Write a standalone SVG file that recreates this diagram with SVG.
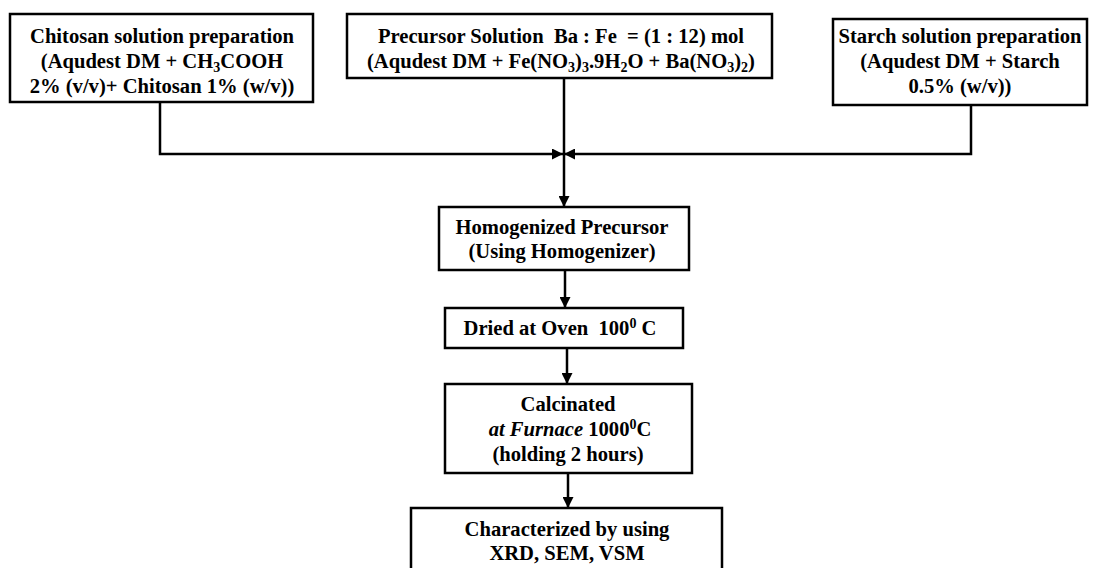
<svg xmlns="http://www.w3.org/2000/svg" width="1097" height="568" viewBox="0 0 1097 568">
<style>
.box{fill:#fff;stroke:#000;stroke-width:2.5}
.t{font-family:"Liberation Serif","Times New Roman",serif;font-weight:bold;font-size:20.6px;fill:#000;text-anchor:middle;white-space:pre}
.ln{fill:none;stroke:#000;stroke-width:2.5}
.sub{font-size:14px}
</style>
<defs>
<marker id="ah" viewBox="0 0 10 10" refX="10" refY="5" markerWidth="11" markerHeight="11" markerUnits="userSpaceOnUse" orient="auto">
<path d="M0,0 L10,5 L0,10 Z" fill="#000"/>
</marker>
</defs>
<rect width="1097" height="568" fill="#fff"/>
<g id="connectors">
<polyline class="ln" points="160,102 160,154 563,154" marker-end="url(#ah)"/>
<polyline class="ln" points="971,105 971,154 564,154" marker-end="url(#ah)"/>
<line class="ln" x1="564" y1="78" x2="564" y2="207" marker-end="url(#ah)"/>
<line class="ln" x1="565" y1="270" x2="565" y2="308" marker-end="url(#ah)"/>
<line class="ln" x1="567" y1="348" x2="567" y2="384" marker-end="url(#ah)"/>
<line class="ln" x1="568" y1="473" x2="568" y2="508" marker-end="url(#ah)"/>
</g>
<g id="chitosan">
<rect class="box" x="10" y="14" width="303" height="88"/>
<text class="t" x="162" y="43">Chitosan solution preparation</text>
<text class="t" x="162" y="68">(Aqudest DM + CH<tspan class="sub" dy="4">3</tspan><tspan dy="-4">COOH</tspan></text>
<text class="t" x="162" y="93">2% (v/v)+ Chitosan 1% (w/v))</text>
</g>
<g id="precursor">
<rect class="box" x="347" y="14" width="425" height="64"/>
<text class="t" x="561" y="43">Precursor Solution  Ba : Fe  = (1 : 12) mol</text>
<text class="t" x="561" y="68">(Aqudest DM + Fe(NO<tspan class="sub" dy="4">3</tspan><tspan dy="-4">)</tspan><tspan class="sub" dy="4">3</tspan><tspan dy="-4">.9H</tspan><tspan class="sub" dy="4">2</tspan><tspan dy="-4">O + Ba(NO</tspan><tspan class="sub" dy="4">3</tspan><tspan dy="-4">)</tspan><tspan class="sub" dy="4">2</tspan><tspan dy="-4">)</tspan></text>
</g>
<g id="starch">
<rect class="box" x="833" y="19" width="254" height="86"/>
<text class="t" x="960" y="43">Starch solution preparation</text>
<text class="t" x="960" y="68">(Aqudest DM + Starch</text>
<text class="t" x="960" y="93">0.5% (w/v))</text>
</g>
<g id="homogenized">
<rect class="box" x="439" y="207" width="250" height="63"/>
<text class="t" x="562" y="234">Homogenized Precursor</text>
<text class="t" x="562" y="258">(Using Homogenizer)</text>
</g>
<g id="dried">
<rect class="box" x="445" y="308" width="238" height="40"/>
<text class="t" x="560" y="335">Dried at Oven  100<tspan class="sub" dy="-7">0</tspan><tspan dy="7"> C</tspan></text>
</g>
<g id="calcinated">
<rect class="box" x="445" y="384" width="247" height="89"/>
<text class="t" x="568" y="411">Calcinated</text>
<text class="t" x="570" y="436"><tspan font-style="italic">at Furnace</tspan> 1000<tspan class="sub" dy="-7">0</tspan><tspan dy="7">C</tspan></text>
<text class="t" x="568" y="461">(holding 2 hours)</text>
</g>
<g id="characterized">
<rect class="box" x="411" y="508" width="311" height="70"/>
<text class="t" x="567" y="536">Characterized by using</text>
<text class="t" x="567" y="560">XRD, SEM, VSM</text>
</g>
</svg>
